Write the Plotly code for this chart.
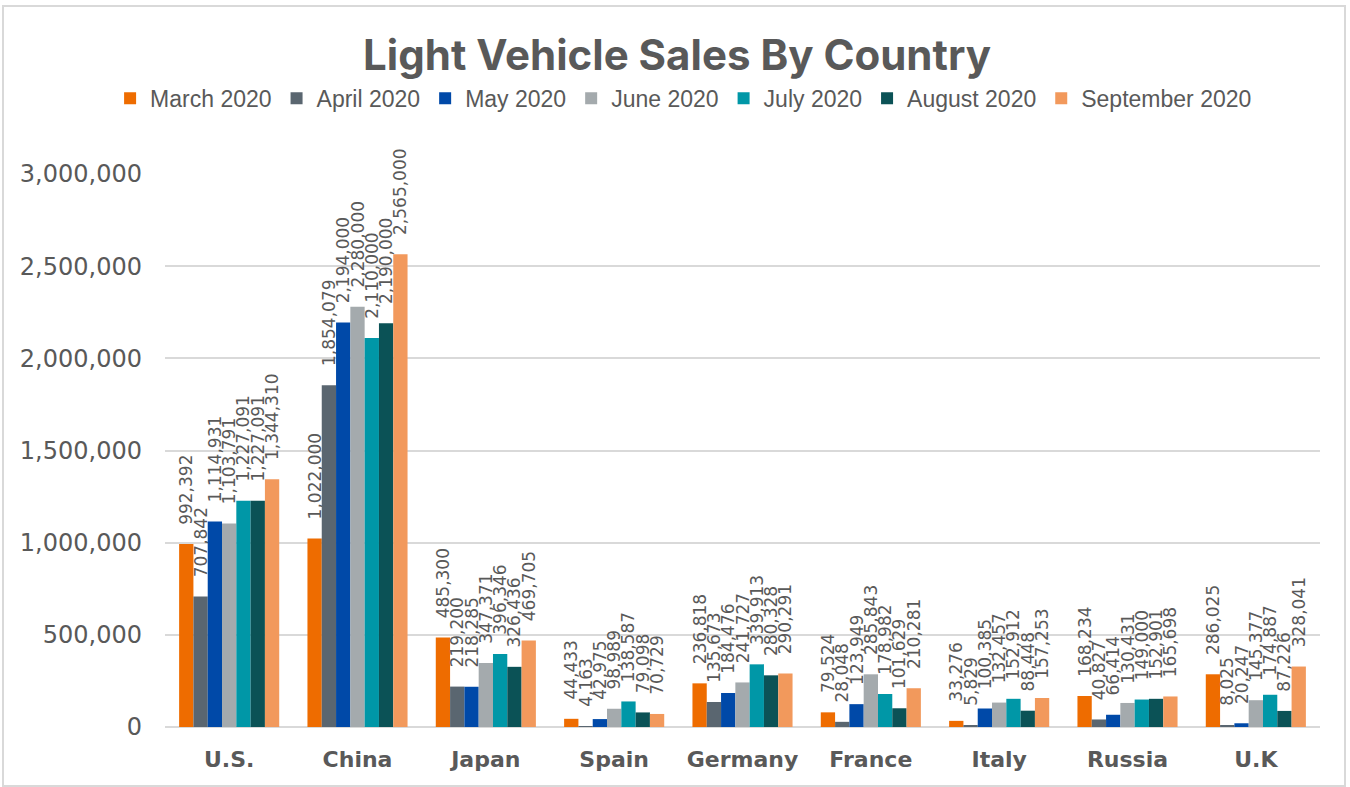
import plotly.graph_objects as go

countries = ["U.S.", "China", "Japan", "Spain", "Germany", "France", "Italy", "Russia", "U.K"]
months = ["March 2020", "April 2020", "May 2020", "June 2020", "July 2020", "August 2020", "September 2020"]

march = [992392, 1022000, 485300, 44433, 236818, 79524, 33276, 168234, 286025]
april = [707842, 1854079, 219200, 4163, 135673, 28048, 5829, 40827, 8025]
may = [1114931, 2194000, 218285, 42975, 184476, 123949, 100385, 66414, 20247]
june = [1103791, 2280000, 347371, 98989, 241727, 285843, 132457, 130431, 145377]
july = [1227091, 2110000, 396346, 138587, 339913, 178982, 152912, 149000, 174887]
august = [1227091, 2190000, 326436, 79098, 280328, 101629, 88448, 152901, 87226]
september = [1344310, 2565000, 469705, 70729, 290291, 210281, 157253, 165698, 328041]

series = [march, april, may, june, july, august, september]
colors = ["#EE6C00", "#5A6670", "#0049A8", "#A4AAAD", "#0097A7", "#0B5256", "#F2995C"]

TXT = "#595959"
PAD = "\u00a0\u00a0\u00a0"
fig = go.Figure()
for name, vals, col in zip(months, series, colors):
    fig.add_trace(go.Bar(
        x=countries, y=vals, name=name, marker_color=col, marker_line_width=0,
        text=[PAD + f"{v:,}" for v in vals], textposition="outside", textangle=-90,
        textfont=dict(family="DejaVu Sans", size=17, color=TXT),
        constraintext="none", cliponaxis=False,
    ))

fig.update_layout(
    width=1350, height=787,
    margin=dict(l=165, r=30, t=174, b=60),
    paper_bgcolor="white", plot_bgcolor="white",
    barmode="group", bargap=0.22, bargroupgap=0,
    title=dict(text="<b>Light Vehicle Sales By Country</b>", x=0.5015, y=0.93,
               xanchor="center", yanchor="middle",
               font=dict(family="Inter", size=42, color=TXT, weight=900)),
    legend=dict(orientation="h", x=0.449, y=1.137, xanchor="center", yanchor="middle",
                font=dict(family="Liberation Sans", size=23, color=TXT),
                itemwidth=30, tracegroupgap=0, bgcolor="rgba(0,0,0,0)"),
    showlegend=True,
)
fig.update_yaxes(range=[0, 3000000], dtick=500000, tickformat=",",
                 showgrid=True, gridcolor="#D9D9D9", gridwidth=2,
                 zeroline=True, zerolinecolor="#D9D9D9", zerolinewidth=2,
                 showline=False, ticks="", ticklabelstandoff=22,
                 tickfont=dict(family="DejaVu Sans", size=24, color=TXT))
fig.update_xaxes(showgrid=False, showline=False, ticks="", ticklabelstandoff=17,
                 tickfont=dict(family="DejaVu Sans", size=22, color=TXT, weight="bold"))

fig.add_shape(type="rect", xref="paper", yref="paper",
              x0=(3 - 165) / 1155, x1=(1345 - 165) / 1155,
              y0=(727 - 786) / 553, y1=(727 - 6) / 553,
              line=dict(color="#D9D9D9", width=2), fillcolor="rgba(0,0,0,0)", layer="below")

fig.write_html("out.html", config={"displayModeBar": False},
               post_script="document.body.style.margin='0';")
